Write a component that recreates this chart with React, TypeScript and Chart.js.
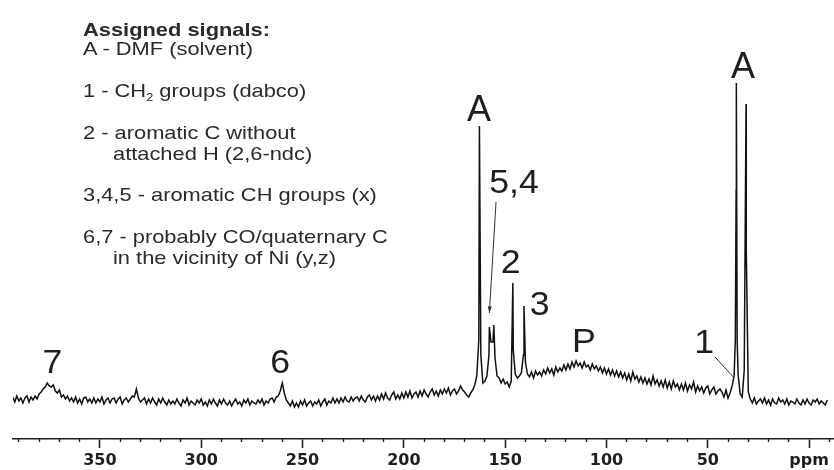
import React, { useEffect, useRef } from "react";
import { Chart, registerables } from "chart.js";

Chart.register(...registerables);

// chemical-shift window of the plot (ppm, drawn high → low)
const PPM_LEFT = 392.9;
const PPM_RIGHT = -12.3;
const Y_MIN = -39;
const Y_MAX = 400;

// 13C MAS spectrum: baseline trace sampled every 1 ppm, starting at 393 ppm
const baselineStartPpm = 393;
const baselineIntensity = [
  3, -2, 4, -1, 2, -3, 2, 4, -2, 3, // 393..384
  0, 4, 1, 6, 8, 11, 13, 17, 14, 13, // 383..374
  15, 9, 7, 10, 3, 5, 1, 4, -1, 2, // 373..364
  -2, 3, -3, 1, -4, 2, 3, -2, 1, -3, // 363..354
  2, -3, 1, -2, 3, -4, 0, 2, -3, 1, // 353..344
  2, -3, 1, 3, -4, 0, 2, -2, 1, 4, // 343..334
  3, 11, 2, -2, 0, 2, -4, 1, -3, 2, // 333..324
  -2, -5, 1, -3, 2, -2, -5, 0, -4, -1, // 323..314
  -4, 1, -3, -6, 0, -3, 2, -5, -1, -3, // 313..304
  -5, 0, -3, 1, -5, -2, -6, 0, -4, 1, // 303..294
  -3, -6, 0, -4, 1, -3, -5, -1, -6, -2, // 293..284
  1, -4, -2, -6, 0, -3, 1, -5, -1, -3, // 283..274
  -4, 0, -3, 1, -5, -1, -3, 1, 2, -2, // 273..264
  3, 4, 9, 17, 7, 0, -3, -6, -1, -7, // 263..254
  -3, -7, -1, -5, 0, -6, -3, -1, -6, -2, // 253..244
  -4, 0, -6, -2, 1, -5, -1, -3, 2, -3, // 243..234
  1, -3, 2, -2, 3, -1, -2, 3, -1, 2, // 233..224
  3, -1, 4, 0, -2, 3, 5, 0, 4, -1, // 223..214
  4, 0, 6, 1, 7, 2, 0, 5, 8, 1, // 213..204
  5, 1, 7, 2, 8, 3, 9, 2, 6, 8, // 203..194
  3, 9, 4, 10, 6, 3, 8, 11, 5, 9, // 193..184
  4, 10, 6, 11, 7, 12, 5, 9, 11, 6, // 183..174
  9, 14, 10, 8, 5, 3, 7, 10, 15, 24, // 173..164
  60, 45, 17, 19, 24, 45, 58, 58, 42, 24, // 163..154
  22, 17, 21, 16, 18, 13, 19, 50, 26, 22, // 153..144
  24, 27, 45, 38, 26, 23, 28, 22, 29, 25, // 143..134
  28, 24, 30, 26, 32, 27, 31, 25, 33, 28, // 133..124
  32, 29, 35, 30, 36, 31, 38, 33, 39, 34, // 123..114
  37, 32, 38, 33, 35, 30, 36, 31, 34, 29, // 113..104
  33, 27, 32, 26, 31, 25, 30, 24, 29, 23, // 103..94
  28, 22, 27, 20, 26, 19, 28, 21, 24, 18, // 93..84
  23, 17, 22, 16, 21, 15, 24, 16, 20, 14, // 83..74
  19, 13, 20, 12, 18, 11, 19, 13, 16, 10, // 73..64
  16, 10, 17, 9, 15, 11, 18, 8, 14, 9, // 63..54
  13, 7, 12, 14, 6, 10, 13, 6, 9, 11, // 53..44
  8, 3, 10, 2, 7, 14, 24, 210, 25, 6, // 43..34
  3, 30, 150, 8, 1, -3, 2, -4, -1, 1, // 33..24
  -3, 2, -4, 0, -5, 1, -3, -4, 2, -2, // 23..14
  0, -4, 1, -5, -1, -2, -4, 1, -3, -5, // 13..4
  0, -4, 1, -3, -5, 0, -2, 1, -4, -1, // 3..-6
  -3, -5, 0, // -7..-9
];

// sharp resonances between the 1 ppm samples (apexes and flanks)
const lineShift = [162.7, 157.8, 155.6, 146.2, 140.7, 36.4, 35.9, 35.5, 31.1];
const lineIntensity = [274, 73, 75, 117, 94, 60, 317, 60, 296];

// axis ticks
const majorTicks = [350, 300, 250, 200, 150, 100, 50, 0];
const minorTicks = [
  390, 380, 370, 360, 340, 330, 320, 310, 290, 280, 270, 260, 240, 230, 220,
  210, 190, 180, 170, 160, 140, 130, 120, 110, 90, 80, 70, 60, 40, 30, 20, 10, -10,
];

// signal assignments written over the trace
const peakLabels = ["A", "5,4", "2", "3", "P", "1", "A", "7", "6"];
const peakLabelShift = [162.9, 145.6, 147.3, 133.0, 111.2, 51.8, 32.6, 373.5, 261.1];
const peakLabelLevel = [279, 207, 127, 85, 48, 47, 322, 27, 27];
const peakLabelSize = [36, 33, 33, 33, 33, 33, 36, 33, 33];

// pointer from "5,4" down to the doublet, and from "1" to the CH2 shoulder
const arrowFrom = { ppm: 154.5, level: 198 };
const arrowTo = { ppm: 157.8, level: 87 };
const leaderFrom = { ppm: 46.4, level: 43 };
const leaderTo = { ppm: 37.4, level: 23 };

const LABEL_FONT = "'Liberation Sans', Arial, Helvetica, sans-serif";
const INK = "#1e1e1e";
const TEXT_STRETCH = 1.15;

const spectrum = [
  ...baselineIntensity.map((v, i) => ({ x: baselineStartPpm - i, y: v })),
  ...lineShift.map((x, i) => ({ x, y: lineIntensity[i] })),
].sort((a, b) => b.x - a.x);

const annotationPlugin = {
  id: "peakAnnotations",
  afterDatasetsDraw(chart: any) {
    const { ctx } = chart;
    const xs = chart.scales.x;
    const ys = chart.scales.y;
    ctx.save();
    ctx.fillStyle = INK;
    ctx.textAlign = "center";
    ctx.textBaseline = "alphabetic";
    peakLabels.forEach((text, i) => {
      ctx.save();
      ctx.translate(xs.getPixelForValue(peakLabelShift[i]), ys.getPixelForValue(peakLabelLevel[i]));
      if (text !== "A") ctx.scale(1.08, 1);
      ctx.font = `${peakLabelSize[i]}px ${LABEL_FONT}`;
      ctx.fillText(text, 0, 0);
      ctx.restore();
    });

    ctx.strokeStyle = "#333";
    ctx.lineWidth = 1;
    // arrow to the 5,4 doublet
    const ax1 = xs.getPixelForValue(arrowFrom.ppm);
    const ay1 = ys.getPixelForValue(arrowFrom.level);
    const ax2 = xs.getPixelForValue(arrowTo.ppm);
    const ay2 = ys.getPixelForValue(arrowTo.level);
    ctx.beginPath();
    ctx.moveTo(ax1, ay1);
    ctx.lineTo(ax2, ay2);
    ctx.stroke();
    const ang = Math.atan2(ay2 - ay1, ax2 - ax1);
    const head = 7;
    ctx.beginPath();
    ctx.moveTo(ax2, ay2);
    ctx.lineTo(ax2 - head * Math.cos(ang - 0.3), ay2 - head * Math.sin(ang - 0.3));
    ctx.lineTo(ax2 - head * Math.cos(ang + 0.3), ay2 - head * Math.sin(ang + 0.3));
    ctx.closePath();
    ctx.fillStyle = "#333";
    ctx.fill();

    // leader line for signal 1
    ctx.beginPath();
    ctx.moveTo(xs.getPixelForValue(leaderFrom.ppm), ys.getPixelForValue(leaderFrom.level));
    ctx.lineTo(xs.getPixelForValue(leaderTo.ppm), ys.getPixelForValue(leaderTo.level));
    ctx.stroke();
    ctx.restore();
  },
};

const textStyle: React.CSSProperties = {
  position: "absolute",
  fontFamily: LABEL_FONT,
  fontSize: 19,
  lineHeight: "20px",
  color: "#2a2a2a",
  whiteSpace: "nowrap",
  transform: `scaleX(${TEXT_STRETCH})`,
  transformOrigin: "0 0",
};

function Line({ left, baseline, bold, children }: any) {
  return (
    <div style={{ ...textStyle, left, top: baseline - 16.6, fontWeight: bold ? 700 : 400 }}>
      {children}
    </div>
  );
}

export default function App() {
  const canvasRef = useRef<HTMLCanvasElement | null>(null);

  useEffect(() => {
    const canvas = canvasRef.current;
    if (!canvas) return;
    const tickFont = { family: "'DejaVu Sans', sans-serif", size: 16, weight: "bold" as const };
    const chart = new Chart(canvas, {
      type: "line",
      data: {
        datasets: [
          {
            data: spectrum,
            borderColor: "#111",
            borderWidth: 1.5,
            pointRadius: 0,
            tension: 0,
            fill: false,
          },
        ],
      },
      options: {
        animation: false,
        responsive: false,
        events: [],
        parsing: false,
        layout: { padding: { left: 13, right: 0, top: 0, bottom: 0 } },
        plugins: { legend: { display: false }, tooltip: { enabled: false } },
        scales: {
          x: {
            type: "linear",
            reverse: true,
            min: PPM_RIGHT,
            max: PPM_LEFT,
            position: "bottom",
            afterBuildTicks: (s: any) => {
              s.ticks = majorTicks.map((value) => ({ value }));
            },
            afterFit: (s: any) => {
              s.height = 31;
            },
            border: { display: true, color: INK, width: 1.6 },
            grid: {
              drawOnChartArea: false,
              drawTicks: true,
              tickLength: 9,
              tickColor: INK,
              tickWidth: 1.6,
            },
            ticks: {
              color: INK,
              font: tickFont,
              padding: 3,
              maxRotation: 0,
              autoSkip: false,
              callback: (v: any) => (Number(v) === 0 ? "ppm" : String(v)),
            },
          },
          xMinor: {
            type: "linear",
            axis: "x",
            reverse: true,
            min: PPM_RIGHT,
            max: PPM_LEFT,
            position: { y: Y_MIN },
            afterBuildTicks: (s: any) => {
              s.ticks = minorTicks.map((value) => ({ value }));
            },
            border: { display: false },
            grid: {
              drawOnChartArea: false,
              drawTicks: true,
              tickLength: 3,
              tickColor: INK,
              tickWidth: 1.4,
            },
            ticks: { display: false },
          },
          y: { display: false, min: Y_MIN, max: Y_MAX },
        },
      } as any,
      plugins: [annotationPlugin],
    });
    return () => chart.destroy();
  }, []);

  return (
    <div style={{ position: "fixed", left: 0, top: 0, width: 834, height: 470, background: "#fff" }}>
      <canvas ref={canvasRef} width={834} height={470} style={{ display: "block" }} />
      <Line left={82.5} baseline={36.5} bold>
        Assigned signals:
      </Line>
      <Line left={82.5} baseline={56}>A - DMF (solvent)</Line>
      <Line left={82.5} baseline={97.7}>
        1 - CH<span style={{ fontSize: 11, position: "relative", top: 4 }}>2</span> groups (dabco)
      </Line>
      <Line left={82.5} baseline={139.4}>2 - aromatic C without</Line>
      <Line left={113} baseline={160.2}>attached H (2,6-ndc)</Line>
      <Line left={82.5} baseline={201.9}>3,4,5 - aromatic CH groups (x)</Line>
      <Line left={82.5} baseline={243.6}>6,7 - probably CO/quaternary C</Line>
      <Line left={113} baseline={264.4}>in the vicinity of Ni (y,z)</Line>
    </div>
  );
}
